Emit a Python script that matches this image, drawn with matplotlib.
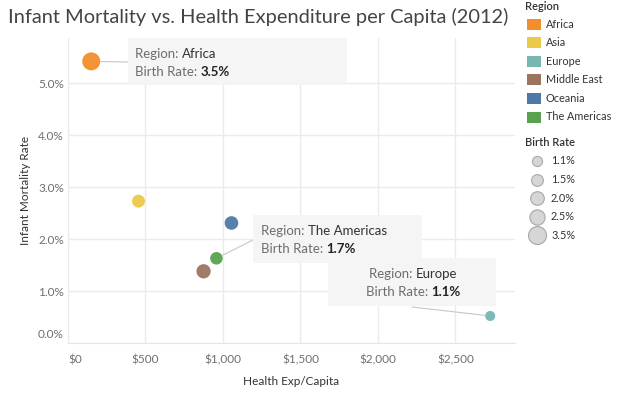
import matplotlib
matplotlib.use("Agg")
import matplotlib.pyplot as plt
from matplotlib.offsetbox import TextArea, HPacker, VPacker, AnnotationBbox
from matplotlib.transforms import ScaledTranslation
from matplotlib.patches import Rectangle, ConnectionPatch

plt.rcParams['font.family'] = ['Lato', 'DejaVu Sans']

# DATA
regions = ["Africa", "Asia", "Europe", "Middle East", "Oceania", "The Americas"]
health_exp = [150, 455, 2725, 875, 1055, 958]
infant_mort = [5.42, 2.73, 0.52, 1.38, 2.31, 1.63]
birth_rate = [3.5, 1.8, 1.1, 2.2, 2.0, 1.7]
colors = ["#F28E2B", "#EDC948", "#76B7B2", "#9C755F", "#4E79A7", "#59A14F"]

x_ticks = [0, 500, 1000, 1500, 2000, 2500]
x_tick_labels = ["$0", "$500", "$1,000", "$1,500", "$2,000", "$2,500"]
y_ticks = [0, 1, 2, 3, 4, 5]
y_tick_labels = ["0.0%", "1.0%", "2.0%", "3.0%", "4.0%", "5.0%"]

legend_sizes = [1.1, 1.5, 2.0, 2.5, 3.5]

GRAY = "#6e6e6e"
DARK = "#333333"


def size_of(br):
    return 48 * br


fig = plt.figure(figsize=(6.4, 3.95), dpi=100)
ax = fig.add_axes([68 / 640, 1 - 343 / 395, (515 - 68) / 640, (343 - 38) / 395])

ax.scatter(health_exp, infant_mort, s=[size_of(b) for b in birth_rate],
           c=colors, alpha=0.95, linewidths=0, zorder=3)

ax.set_xlim(0, 2885)
ax.set_ylim(0, 5.87)
ax.set_xticks(x_ticks)
ax.set_xticklabels(x_tick_labels)
ax.set_yticks(y_ticks)
ax.set_yticklabels(y_tick_labels)
ax.tick_params(length=0, labelsize=8.5, labelcolor=GRAY)
ax.tick_params(axis="x", pad=8.5)
ax.tick_params(axis="y", pad=3)
ax.grid(True, color="#ebebeb", linewidth=1)
ax.set_axisbelow(True)
for s in ["top", "right"]:
    ax.spines[s].set_visible(False)
ax.spines["left"].set_color("#ebebeb")
ax.spines["bottom"].set_color("#e6e6e6")

# edge labels pushed inside like tableau
lab0 = ax.yaxis.get_major_ticks()[0].label1
lab0.set_transform(lab0.get_transform() + ScaledTranslation(0, 0.09, fig.dpi_scale_trans))
ax.xaxis.get_major_ticks()[0].label1.set_horizontalalignment("left")

ax.set_xlabel("Health Exp/Capita", fontsize=8.5, color=DARK, labelpad=7)
ax.set_ylabel("Infant Mortality Rate", fontsize=8.5, color=DARK, labelpad=5)

# overlay in pixel coordinates for title, notes, legend
ovl = fig.add_axes([0, 0, 1, 1], zorder=5)
ovl.set_xlim(0, 640)
ovl.set_ylim(395, 0)
ovl.axis("off")
ovl.patch.set_visible(False)

ovl.text(8, 17, "Infant Mortality vs. Health Expenditure per Capita (2012)",
         fontsize=14.4, color="#444444", va="center", ha="left")


# annotation boxes
def note(idx, box, text_xy, anchor, align, dot_r):
    x0, y0, x1, y1 = box
    ovl.add_patch(Rectangle((x0, y0), x1 - x0, y1 - y0, facecolor="#f5f5f5",
                            edgecolor="none", alpha=0.95, zorder=2))
    r1 = HPacker(children=[TextArea("Region: ", textprops=dict(color=GRAY, size=9.5)),
                           TextArea(regions[idx], textprops=dict(color=DARK, size=9.5))],
                 pad=0, sep=0)
    r2 = HPacker(children=[TextArea("Birth Rate: ", textprops=dict(color=GRAY, size=9.5)),
                           TextArea("%.1f%%" % birth_rate[idx],
                                    textprops=dict(color="#222222", size=9.5, weight="bold"))],
                 pad=0, sep=0)
    vb = VPacker(children=[r1, r2], pad=0, sep=5, align=align)
    ab = AnnotationBbox(vb, text_xy, xycoords="data", frameon=False, pad=0,
                        box_alignment=(anchor, 0.5), zorder=3)
    ovl.add_artist(ab)
    con = ConnectionPatch(xyA=(health_exp[idx], infant_mort[idx]), coordsA=ax.transData,
                          xyB=box_pt[idx], coordsB=ovl.transData,
                          color="#c8c8c8", lw=0.8, shrinkA=dot_r, shrinkB=0, zorder=1)
    ovl.add_artist(con)


box_pt = {0: (128, 62), 5: (253, 240), 2: (412, 307)}
note(0, (128, 38, 347, 85), (135, 63), 0, "left", 7)
note(5, (253, 215, 422, 263), (261, 240), 0, "left", 5)
note(2, (328, 258, 496, 306), (413, 283), 0.5, "center", 4)

# legend
ovl.text(525, 7, "Region", fontsize=8, color=DARK, weight="semibold", va="center")
for i, (r, c) in enumerate(zip(regions, colors)):
    y = 24 + i * 18.6
    ovl.add_patch(Rectangle((527, y - 5.5), 14, 11, facecolor=c, edgecolor="none"))
    ovl.text(546, y, r, fontsize=7.8, color=DARK, va="center")
ovl.text(525, 143, "Birth Rate", fontsize=8, color=DARK, weight="semibold", va="center")
for i, b in enumerate(legend_sizes):
    y = 161 + i * 18.6
    ovl.scatter([537], [y], s=size_of(b), facecolor="#d6d6d6", edgecolor="#a8a8a8", linewidths=0.8)
    ovl.text(551, y, "%.1f%%" % b, fontsize=7.8, color=DARK, va="center")

fig.savefig("out.png", dpi=100)
